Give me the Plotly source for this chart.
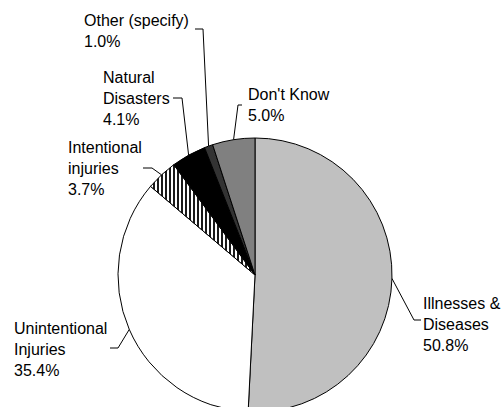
import math
import plotly.graph_objects as go

# Survey answers and their shares (percent)
categories = [
    "Illnesses & Diseases",
    "Unintentional Injuries",
    "Intentional injuries",
    "Natural Disasters",
    "Other (specify)",
    "Don't Know",
]
label_lines = [
    "Illnesses &<br>Diseases",
    "Unintentional<br>Injuries",
    "Intentional<br>injuries",
    "Natural<br>Disasters",
    "Other (specify)",
    "Don't Know",
]
percentages = [50.8, 35.4, 3.7, 4.1, 1.0, 5.0]

slice_colors = ["#C0C0C0", "#FFFFFF", "#FFFFFF", "#000000", "#333333", "#808080"]
slice_patterns = ["", "", "|", "", "", ""]

# Canvas and pie geometry (pixels)
W, H = 504, 414
CX, CY, R = 255, 275, 137

# Label placement: text anchor (left x, middle y), leader elbow and leader end
label_pos = [(421, 324), (12, 349), (66, 168), (101, 99), (82, 31), (246, 105)]
elbows = [(414, 320), (118, 348), (152, 168), (182, 98), (203, 29), (238, 105)]
ends = [(421, 320), (110, 348), (143, 168), (173, 98), (195, 29), (242, 105)]

FONT = "Liberation Sans, Arial, sans-serif"


def px(x):
    return x / W


def py(y):
    return 1 - y / H


fig = go.Figure(
    go.Pie(
        labels=categories,
        values=percentages,
        sort=False,
        direction="clockwise",
        rotation=0,
        textinfo="none",
        hoverinfo="label+percent",
        showlegend=False,
        marker=dict(
            colors=slice_colors,
            line=dict(color="#000000", width=1),
            pattern=dict(
                shape=slice_patterns,
                fgcolor="#000000",
                size=4,
                solidity=0.45,
            ),
        ),
        domain=dict(
            x=[(CX - R) / W, (CX + R) / W],
            y=[1 - (CY + R) / H, 1 - (CY - R) / H],
        ),
    )
)

total = sum(percentages)
cum = 0.0
shapes = []
annotations = []
for i, v in enumerate(percentages):
    theta = 2 * math.pi * (cum + v / 2) / total
    cum += v
    sx = CX + R * math.sin(theta)
    sy = CY - R * math.cos(theta)
    (ex, ey), (tx, ty) = elbows[i], ends[i]
    shapes.append(
        dict(
            type="path",
            xref="paper",
            yref="paper",
            path=f"M {px(sx)} {py(sy)} L {px(ex)} {py(ey)} L {px(tx)} {py(ty)}",
            line=dict(color="#000000", width=1),
        )
    )
    lx, ly = label_pos[i]
    annotations.append(
        dict(
            x=px(lx),
            y=py(ly),
            xref="paper",
            yref="paper",
            xanchor="left",
            yanchor="middle",
            align="left",
            showarrow=False,
            text=f"{label_lines[i]}<br>{v:.1f}%",
            font=dict(family=FONT, size=16, color="#000000"),
        )
    )

fig.update_layout(
    width=W,
    height=H,
    margin=dict(l=0, r=0, t=0, b=0),
    paper_bgcolor="#FFFFFF",
    plot_bgcolor="#FFFFFF",
    shapes=shapes,
    annotations=annotations,
    font=dict(family=FONT),
)

fig.write_html("out.html")
